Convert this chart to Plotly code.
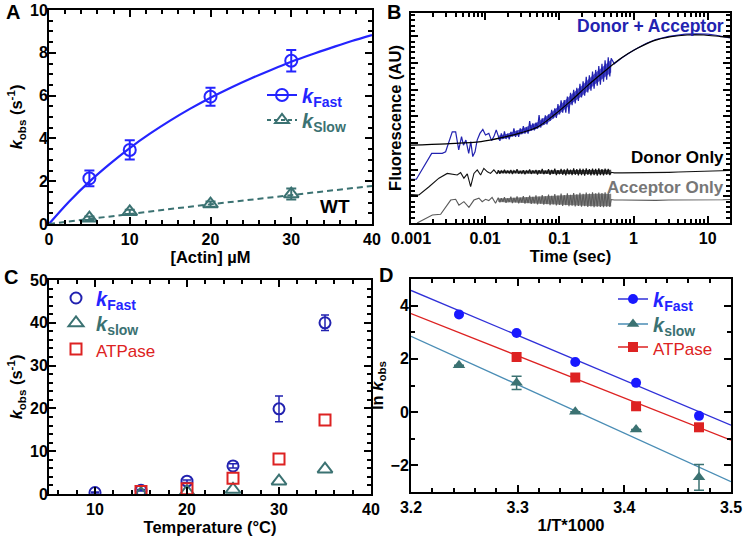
import plotly.graph_objects as go

# ---------------- Panel A data ----------------
actin_uM = [5, 10, 20, 30]
kfast_A = [2.13, 3.46, 5.95, 7.63]
kfast_A_err = [0.37, 0.45, 0.42, 0.50]
kslow_A = [0.27, 0.57, 0.93, 1.40]
kslow_A_err = [0.08, 0.10, 0.12, 0.26]
fitA_x = [0, 2.5, 5, 7.5, 10, 12.5, 15, 17.5, 20, 22.5, 25, 27.5, 30, 32.5, 35, 37.5, 40]
fitA_fast = [0, 1.05, 1.98, 2.80, 3.55, 4.22, 4.83, 5.39, 5.90, 6.37, 6.80, 7.20, 7.58, 7.92, 8.24, 8.55, 8.83]
fitA_slow_x = [0, 5, 10, 15, 20, 25, 30, 35, 40]
fitA_slow = [0, 0.24, 0.47, 0.70, 0.92, 1.14, 1.36, 1.57, 1.78]

# ---------------- Panel B data (time in ms, fluorescence AU) ----------------
blue_early_ms = [1.0, 1.18, 1.9, 2.64, 2.93, 3.6, 4.0, 4.4, 4.8, 5.1, 5.5, 6.0, 6.4, 6.8, 7.3, 7.8,
                 8.5, 9.3, 10.1, 11.2, 12.2, 13.1, 14.1]
blue_early = [1.64, 1.64, 2.61, 2.61, 2.67, 3.42, 3.42, 2.74, 3.24, 2.92, 3.11, 2.61, 3.05, 2.49, 2.67, 3.11,
              3.36, 3.51, 3.30, 3.36, 3.09, 3.24, 3.49]
black_early_ms = [1.0, 1.28, 1.75, 2.38, 3.08, 3.6, 4.2, 4.67, 5.17, 5.74, 6.37, 7.06, 7.82, 8.68, 9.6,
                  10.7, 11.8, 13.1, 14.5]
black_early = [1.07, 1.05, 1.36, 1.68, 1.86, 1.84, 1.80, 1.89, 1.68, 1.84, 1.36, 1.86, 1.99, 1.80, 2.05,
               1.92, 1.86, 1.99, 1.84]
gray_early_ms = [1.0, 1.23, 1.94, 2.51, 3.43, 4.0, 4.43, 5.17, 6.04, 7.06, 8.24, 9.12, 10.1, 11.2, 12.4, 13.8]
gray_early = [-0.30, 0.01, 0.30, 0.33, 0.86, 0.89, 0.67, 0.80, 0.59, 0.86, 0.93, 0.80, 0.89, 0.84, 0.96, 0.74]

t_dense_ms = [15.0, 15.8, 16.5, 17.4, 18.2, 19.1, 20.1, 21.1, 22.2, 23.3,
              24.4, 25.7, 26.9, 28.3, 29.7, 31.2, 32.7, 34.4, 36.1, 37.9,
              39.8, 41.8, 43.9, 46.1, 48.4, 50.8, 53.3, 56.0, 58.8, 61.7,
              64.8, 68.1, 71.5, 75.0, 78.8, 82.7, 86.9, 91.2, 95.8, 100.6,
              105.6, 110.9, 116.4, 122.2, 128.3, 134.8, 141.5, 148.6, 156.0, 163.8,
              172.0, 180.6, 189.6, 199.1, 209.1, 219.5, 230.5, 242.0, 254.1, 266.8,
              280.2, 294.2, 308.9, 324.3, 340.5, 357.6, 375.5, 394.2, 413.9, 434.6,
              456.4, 479.2, 500.0]
blue_dense = [3.29, 3.08, 3.36, 3.15, 3.44, 3.15, 3.35, 3.14, 3.42, 3.25,
              3.55, 3.23, 3.46, 3.23, 3.55, 3.33, 3.63, 3.35, 3.59, 3.35,
              3.82, 3.46, 3.74, 3.47, 3.76, 3.54, 4.05, 3.58, 3.92, 3.68,
              4.04, 3.70, 4.07, 3.83, 4.24, 3.92, 4.30, 3.94, 4.46, 4.07,
              4.60, 4.14, 4.61, 4.14, 4.74, 4.10, 4.88, 4.42, 4.99, 4.48,
              5.07, 4.58, 5.22, 4.71, 5.31, 4.77, 5.48, 4.90, 5.54, 4.96,
              5.68, 5.04, 5.74, 5.15, 5.89, 5.19, 5.97, 5.30, 6.10, 5.37,
              6.21, 5.50, 6.18]
black_dense = [1.98, 1.85, 1.96, 1.88, 2.00, 1.86, 1.95, 1.87, 1.99, 1.84,
               1.97, 1.89, 2.02, 1.85, 1.94, 1.86, 1.98, 1.83, 1.96, 1.88,
               2.01, 1.84, 1.97, 1.87, 1.99, 1.82, 1.98, 1.86, 2.03, 1.83,
               1.96, 1.85, 2.02, 1.81, 1.99, 1.84, 2.04, 1.80, 1.98, 1.83,
               2.03, 1.81, 2.01, 1.79, 2.04, 1.82, 2.00, 1.80, 2.05, 1.81,
               2.02, 1.79, 2.04, 1.80, 2.03, 1.78, 2.05, 1.81, 2.02, 1.79,
               2.04, 1.80, 2.03, 1.78, 2.05, 1.80, 2.02, 1.79, 2.04, 1.81,
               2.03, 1.80, 1.90]
gray_dense = [0.95, 0.78, 0.93, 0.80, 0.97, 0.76, 0.92, 0.79, 0.99, 0.75,
              0.94, 0.78, 1.00, 0.74, 0.95, 0.77, 1.01, 0.73, 0.96, 0.75,
              1.03, 0.72, 0.98, 0.74, 1.04, 0.70, 0.99, 0.73, 1.05, 0.69,
              1.00, 0.71, 1.07, 0.67, 1.02, 0.70, 1.08, 0.66, 1.03, 0.68,
              1.10, 0.64, 1.05, 0.67, 1.11, 0.63, 1.06, 0.65, 1.12, 0.62,
              1.08, 0.64, 1.13, 0.61, 1.09, 0.63, 1.14, 0.60, 1.10, 0.62,
              1.15, 0.59, 1.11, 0.61, 1.14, 0.60, 1.12, 0.59, 1.15, 0.61,
              1.12, 0.60, 0.88]
t_tail_ms = [550, 700, 1000, 1500, 2000, 3000, 4000, 5000, 7000, 10000, 13000, 16000, 20000]
blue_tail = [5.97, 6.20, 6.48, 6.74, 6.88, 7.00, 7.05, 7.08, 7.09, 7.08, 7.04, 6.98, 6.94]
black_tail = [1.88, 1.88, 1.88, 1.89, 1.89, 1.90, 1.91, 1.92, 1.93, 1.94, 1.95, 1.96, 1.97]
gray_tail = [0.86, 0.86, 0.85, 0.86, 0.85, 0.86, 0.86, 0.85, 0.86, 0.86, 0.87, 0.87, 0.88]

# noise envelopes of the densely sampled part (ms)
blue_band_ms = [15, 20, 30, 50, 70, 100, 150, 200, 300, 400, 500]
blue_band_hi = [3.27, 3.35, 3.52, 3.77, 4.04, 4.40, 4.86, 5.15, 5.61, 5.90, 6.12]
blue_band_lo = [3.11, 3.19, 3.32, 3.53, 3.76, 4.10, 4.50, 4.75, 5.19, 5.44, 5.64]
bg_band_ms = [15, 30, 60, 100, 200, 300, 500]
black_band_hi = [1.96, 1.97, 1.98, 1.99, 2.00, 2.00, 2.00]
black_band_lo = [1.87, 1.86, 1.85, 1.84, 1.83, 1.83, 1.83]
gray_band_hi = [0.92, 0.96, 1.00, 1.04, 1.08, 1.10, 1.10]
gray_band_lo = [0.79, 0.76, 0.72, 0.68, 0.65, 0.63, 0.63]

fitB_s = [0.001, 0.003, 0.0088, 0.018, 0.030, 0.051, 0.085, 0.143, 0.24, 0.40, 0.67, 1.13, 1.89, 3.2, 5.3, 8.9, 15, 20]
fitB = [2.92, 2.97, 3.05, 3.22, 3.38, 3.60, 4.05, 4.58, 5.15, 5.67, 6.17, 6.55, 6.84, 6.99, 7.05, 7.05, 6.99, 6.96]
B_xticks = [0.001, 0.01, 0.1, 1, 10]
B_xticktext = ["0.001", "0.01", "0.1", "1", "10"]
B_xminor = [m * d for d in [0.001, 0.01, 0.1, 1] for m in range(2, 10)] + [20]

# ---------------- Panel C data ----------------
temp_fast = [10, 15, 20, 25, 30, 35]
kfast_C = [0.35, 0.88, 3.0, 6.55, 19.9, 40.0]
kfast_C_err = [0.1, 0.15, 0.3, 0.5, 3.0, 1.8]
temp_slow = [15, 20, 25, 30, 35]
kslow_C = [0.09, 0.55, 1.05, 3.0, 5.8]
temp_atp = [15, 20, 25, 30, 35]
atpase_C = [0.57, 1.25, 3.7, 8.2, 17.3]

# ---------------- Panel D data ----------------
invT_fast = [3.245, 3.299, 3.354, 3.411, 3.470]
lnk_fast = [3.67, 2.97, 1.88, 1.10, -0.14]
invT_slow = [3.245, 3.299, 3.354, 3.411, 3.470]
lnk_slow = [1.76, 1.10, 0.01, -0.65, -2.45]
lnk_slow_err = [None, 0.25, None, None, 0.48]
invT_atp = [3.299, 3.354, 3.411, 3.470]
lnk_atp = [2.07, 1.30, 0.22, -0.57]
fitD_x = [3.2, 3.5]
fitD_fast = [4.57, -0.49]
fitD_atp = [3.70, -1.05]
fitD_slow = [2.85, -2.61]

# ---------------- styling ----------------
W, H = 744, 540
FONT = "Liberation Sans, Arial, sans-serif"
TICKFONT = "Liberation Sans Narrow, Arial Narrow, Liberation Sans, Arial, sans-serif"
BLUE = "#2424ff"
BLUE_DK = "#2222b0"
TEAL = "#3b7272"
RED = "#dd2222"
LBLUE = "#4a8db5"


def fx(p):
    return p / W


def fy(p):
    return 1 - p / H


def ms_to_s(v):
    return [t / 1000.0 for t in v]


def kname(sub, color):
    return f'<span style="color:{color}"><b><i>k</i><sub>{sub}</sub></b></span>'


ATP_NAME = f'<span style="color:{RED};font-size:17px">ATPase</span>'

fig = go.Figure()

# ---- Panel A ----
fig.add_trace(go.Scatter(x=fitA_x, y=fitA_fast, mode="lines", line=dict(color=BLUE, width=2.2),
                         showlegend=False, xaxis="x", yaxis="y", line_shape="spline"))
fig.add_trace(go.Scatter(x=fitA_slow_x, y=fitA_slow, mode="lines",
                         line=dict(color=TEAL, width=2, dash="6px,4px"),
                         showlegend=False, xaxis="x", yaxis="y"))
fig.add_trace(go.Scatter(x=actin_uM, y=kfast_A, mode="markers",
                         marker=dict(symbol="circle-open", size=12, color=BLUE, line=dict(width=2, color=BLUE)),
                         error_y=dict(type="data", array=kfast_A_err, color=BLUE, thickness=2, width=5),
                         showlegend=False, xaxis="x", yaxis="y"))
fig.add_trace(go.Scatter(x=actin_uM, y=kslow_A, mode="markers",
                         marker=dict(symbol="triangle-up-open", size=13, color=TEAL, line=dict(width=2, color=TEAL)),
                         error_y=dict(type="data", array=kslow_A_err, color=TEAL, thickness=2, width=5),
                         showlegend=False, xaxis="x", yaxis="y"))
fig.add_trace(go.Scatter(x=[None], y=[None], mode="lines+markers", legend="legend",
                         line=dict(color=BLUE, width=2),
                         marker=dict(symbol="circle-open", size=12, color=BLUE, line=dict(width=2, color=BLUE)),
                         name=kname("Fast", BLUE), xaxis="x", yaxis="y"))
fig.add_trace(go.Scatter(x=[None], y=[None], mode="lines+markers", legend="legend2",
                         line=dict(color=TEAL, width=2, dash="4px,3px"),
                         marker=dict(symbol="triangle-up-open", size=12, color=TEAL, line=dict(width=2, color=TEAL)),
                         name=kname("Slow", TEAL), xaxis="x", yaxis="y"))

# ---- Panel B ----
def band(t_ms, hi, lo, color):
    xs = ms_to_s(t_ms) + ms_to_s(t_ms[::-1])
    ys = hi + lo[::-1]
    return go.Scatter(x=xs, y=ys, fill="toself", fillcolor=color, mode="lines", line=dict(width=0),
                      showlegend=False, hoverinfo="skip", xaxis="x2", yaxis="y2")


fig.add_trace(band(blue_band_ms, blue_band_hi, blue_band_lo, "rgba(34,34,176,0.75)"))
fig.add_trace(band(bg_band_ms, black_band_hi, black_band_lo, "rgba(17,17,17,0.75)"))
fig.add_trace(band(bg_band_ms, gray_band_hi, gray_band_lo, "rgba(90,90,90,0.75)"))
fig.add_trace(go.Scatter(x=ms_to_s(blue_early_ms + t_dense_ms + t_tail_ms),
                         y=blue_early + blue_dense + blue_tail, mode="lines",
                         line=dict(color=BLUE_DK, width=1.2), showlegend=False, xaxis="x2", yaxis="y2"))
fig.add_trace(go.Scatter(x=ms_to_s(black_early_ms + t_dense_ms + t_tail_ms),
                         y=black_early + black_dense + black_tail, mode="lines",
                         line=dict(color="#111111", width=1.1), showlegend=False, xaxis="x2", yaxis="y2"))
fig.add_trace(go.Scatter(x=ms_to_s(gray_early_ms + t_dense_ms + t_tail_ms),
                         y=gray_early + gray_dense + gray_tail, mode="lines",
                         line=dict(color="#5a5a5a", width=1.1), showlegend=False, xaxis="x2", yaxis="y2"))
fig.add_trace(go.Scatter(x=fitB_s, y=fitB, mode="lines", line=dict(color="#000000", width=1.2),
                         line_shape="spline", showlegend=False, xaxis="x2", yaxis="y2"))

# ---- Panel C ----
fig.add_trace(go.Scatter(x=temp_fast, y=kfast_C, mode="markers",
                         marker=dict(symbol="circle-open", size=11, color=BLUE_DK, line=dict(width=2, color=BLUE_DK)),
                         error_y=dict(type="data", array=kfast_C_err, color=BLUE_DK, thickness=1.5, width=4),
                         showlegend=False, xaxis="x3", yaxis="y3"))
fig.add_trace(go.Scatter(x=temp_slow, y=kslow_C, mode="markers",
                         marker=dict(symbol="triangle-up-open", size=13, color=TEAL, line=dict(width=2, color=TEAL)),
                         showlegend=False, xaxis="x3", yaxis="y3"))
fig.add_trace(go.Scatter(x=temp_atp, y=atpase_C, mode="markers",
                         marker=dict(symbol="square-open", size=11, color=RED, line=dict(width=2, color=RED)),
                         showlegend=False, xaxis="x3", yaxis="y3"))
fig.add_trace(go.Scatter(x=[None], y=[None], mode="markers", legend="legend3",
                         marker=dict(symbol="circle-open", size=11, color=BLUE_DK, line=dict(width=2, color=BLUE_DK)),
                         name=kname("Fast", BLUE), xaxis="x3", yaxis="y3"))
fig.add_trace(go.Scatter(x=[None], y=[None], mode="markers", legend="legend4",
                         marker=dict(symbol="triangle-up-open", size=13, color=TEAL, line=dict(width=2, color=TEAL)),
                         name=kname("slow", TEAL), xaxis="x3", yaxis="y3"))
fig.add_trace(go.Scatter(x=[None], y=[None], mode="markers", legend="legend5",
                         marker=dict(symbol="square-open", size=11, color=RED, line=dict(width=2, color=RED)),
                         name=ATP_NAME, xaxis="x3", yaxis="y3"))

# ---- Panel D ----
fig.add_trace(go.Scatter(x=fitD_x, y=fitD_fast, mode="lines", line=dict(color="#3030d8", width=1.3),
                         showlegend=False, xaxis="x4", yaxis="y4"))
fig.add_trace(go.Scatter(x=fitD_x, y=fitD_atp, mode="lines", line=dict(color=RED, width=1.3),
                         showlegend=False, xaxis="x4", yaxis="y4"))
fig.add_trace(go.Scatter(x=fitD_x, y=fitD_slow, mode="lines", line=dict(color=LBLUE, width=1.3),
                         showlegend=False, xaxis="x4", yaxis="y4"))
fig.add_trace(go.Scatter(x=invT_fast, y=lnk_fast, mode="markers",
                         marker=dict(symbol="circle", size=10, color="#1818ff"),
                         showlegend=False, xaxis="x4", yaxis="y4"))
fig.add_trace(go.Scatter(x=invT_slow, y=lnk_slow, mode="markers",
                         marker=dict(symbol="triangle-up", size=11, color=TEAL),
                         error_y=dict(type="data", array=lnk_slow_err, color=TEAL, thickness=1.5, width=5),
                         showlegend=False, xaxis="x4", yaxis="y4"))
fig.add_trace(go.Scatter(x=invT_atp, y=lnk_atp, mode="markers",
                         marker=dict(symbol="square", size=10, color=RED),
                         showlegend=False, xaxis="x4", yaxis="y4"))
fig.add_trace(go.Scatter(x=[None], y=[None], mode="lines+markers", legend="legend6",
                         line=dict(color="#3030d8", width=1.3), marker=dict(symbol="circle", size=10, color="#1818ff"),
                         name=kname("Fast", BLUE), xaxis="x4", yaxis="y4"))
fig.add_trace(go.Scatter(x=[None], y=[None], mode="lines+markers", legend="legend7",
                         line=dict(color=LBLUE, width=1.3), marker=dict(symbol="triangle-up", size=11, color=TEAL),
                         name=kname("slow", TEAL), xaxis="x4", yaxis="y4"))
fig.add_trace(go.Scatter(x=[None], y=[None], mode="lines+markers", legend="legend8",
                         line=dict(color=RED, width=1.3), marker=dict(symbol="square", size=10, color=RED),
                         name=ATP_NAME, xaxis="x4", yaxis="y4"))

# ---------------- axes ----------------
tickfont = dict(family=TICKFONT, size=16, color="black", weight="bold")
titlefont = dict(family=FONT, size=16.5, color="black", weight="bold")


def axis(domain, rng, anchor, dtick=None, minor=None, title="", standoff=4, **kw):
    d = dict(domain=domain, range=rng, anchor=anchor, showline=True, linewidth=2, linecolor="black",
             mirror="allticks", ticks="inside", ticklen=7, tickwidth=2, tickcolor="black",
             showgrid=False, zeroline=False, tickfont=tickfont, automargin=False,
             title=dict(text=title, font=titlefont, standoff=standoff))
    if dtick is not None:
        d["dtick"] = dtick
    if minor is not None:
        d["minor"] = dict(ticks="inside", ticklen=4, tickwidth=1.5, tickcolor="black", dtick=minor, showgrid=False)
    d.update(kw)
    return d


ytitle = '<i>k</i><sub>obs</sub> (s<sup>-1</sup>)'

fig.update_layout(
    width=W, height=H, margin=dict(l=0, r=0, t=0, b=0),
    paper_bgcolor="white", plot_bgcolor="white",
    font=dict(family=FONT, color="black"),
    xaxis=axis([fx(49), fx(372)], [0, 40], "y", dtick=10, minor=2, title="[Actin] µM", standoff=4),
    yaxis=axis([fy(224), fy(10)], [0, 10], "x", dtick=2, minor=0.5, title=ytitle, standoff=3,
               ticklabelstandoff=-4),
    xaxis2=axis([fx(411), fx(730)], [-3, 1.301], "y2", title="Time (sec)", standoff=4, type="log",
                tickmode="array", tickvals=B_xticks, ticktext=B_xticktext),
    yaxis2=axis([fy(223), fy(13)], [0, 7.875], "x2", dtick=1, minor=0.2, title="Fluorescence (AU)",
                standoff=3, showticklabels=False),
    xaxis3=axis([fx(49), fx(371)], [5, 40], "y3", dtick=10, minor=2, title="Temperature (°C)", standoff=4),
    yaxis3=axis([fy(494), fy(280)], [0, 50], "x3", dtick=10, minor=2, title=ytitle, standoff=3,
                ticklabelstandoff=-4),
    xaxis4=axis([fx(411), fx(731)], [3.2, 3.5], "y4", dtick=0.1, minor=0.02, title="1/T*1000", standoff=4),
    yaxis4=axis([fy(492), fy(279)], [-3, 5], "x4", dtick=2, minor=1,
                title='ln <i>k</i><sub>obs</sub>', standoff=3, ticklabelstandoff=-3),
)
fig.layout.xaxis2.minor = dict(ticks="inside", ticklen=4, tickwidth=1.5, tickcolor="black",
                               tickmode="array", tickvals=B_xminor, showgrid=False)

leg_common = dict(xanchor="left", yanchor="middle", bgcolor="rgba(0,0,0,0)", borderwidth=0,
                  itemwidth=30, tracegroupgap=0, itemclick=False, itemdoubleclick=False,
                  font=dict(family=FONT, size=20))
# one legend per entry, placed where the reference shows each key
leg_pos = {"legend": (262, 95), "legend2": (262, 120),
           "legend3": (56, 298), "legend4": (56, 323), "legend5": (56, 349),
           "legend6": (613, 299), "legend7": (613, 324), "legend8": (613, 347)}
fig.update_layout({k: dict(x=fx(px), y=fy(py), **leg_common) for k, (px, py) in leg_pos.items()})

# ---------------- annotations ----------------
def ann(text, x, y, size=20, color="black", xanchor="center", bold=True):
    return dict(text=text, x=fx(x), y=fy(y), xref="paper", yref="paper", showarrow=False,
                xanchor=xanchor, yanchor="middle",
                font=dict(family=FONT, size=size, color=color, weight="bold" if bold else "normal"))


fig.update_layout(annotations=[
    ann("A", 13, 12), ann("B", 394, 12), ann("C", 11, 277), ann("D", 386, 275),
    ann("WT", 335, 207, size=19),
    ann("Donor + Acceptor", 726, 26, size=17.5, color="#2323b0", xanchor="right"),
    ann("Donor Only", 726, 157, size=17, color="#000000", xanchor="right"),
    ann("Acceptor Only", 726, 188, size=17, color="#777777", xanchor="right"),
])

fig.write_html("out.html", config={"displayModeBar": False},
               post_script="document.body.style.margin='0px';")
